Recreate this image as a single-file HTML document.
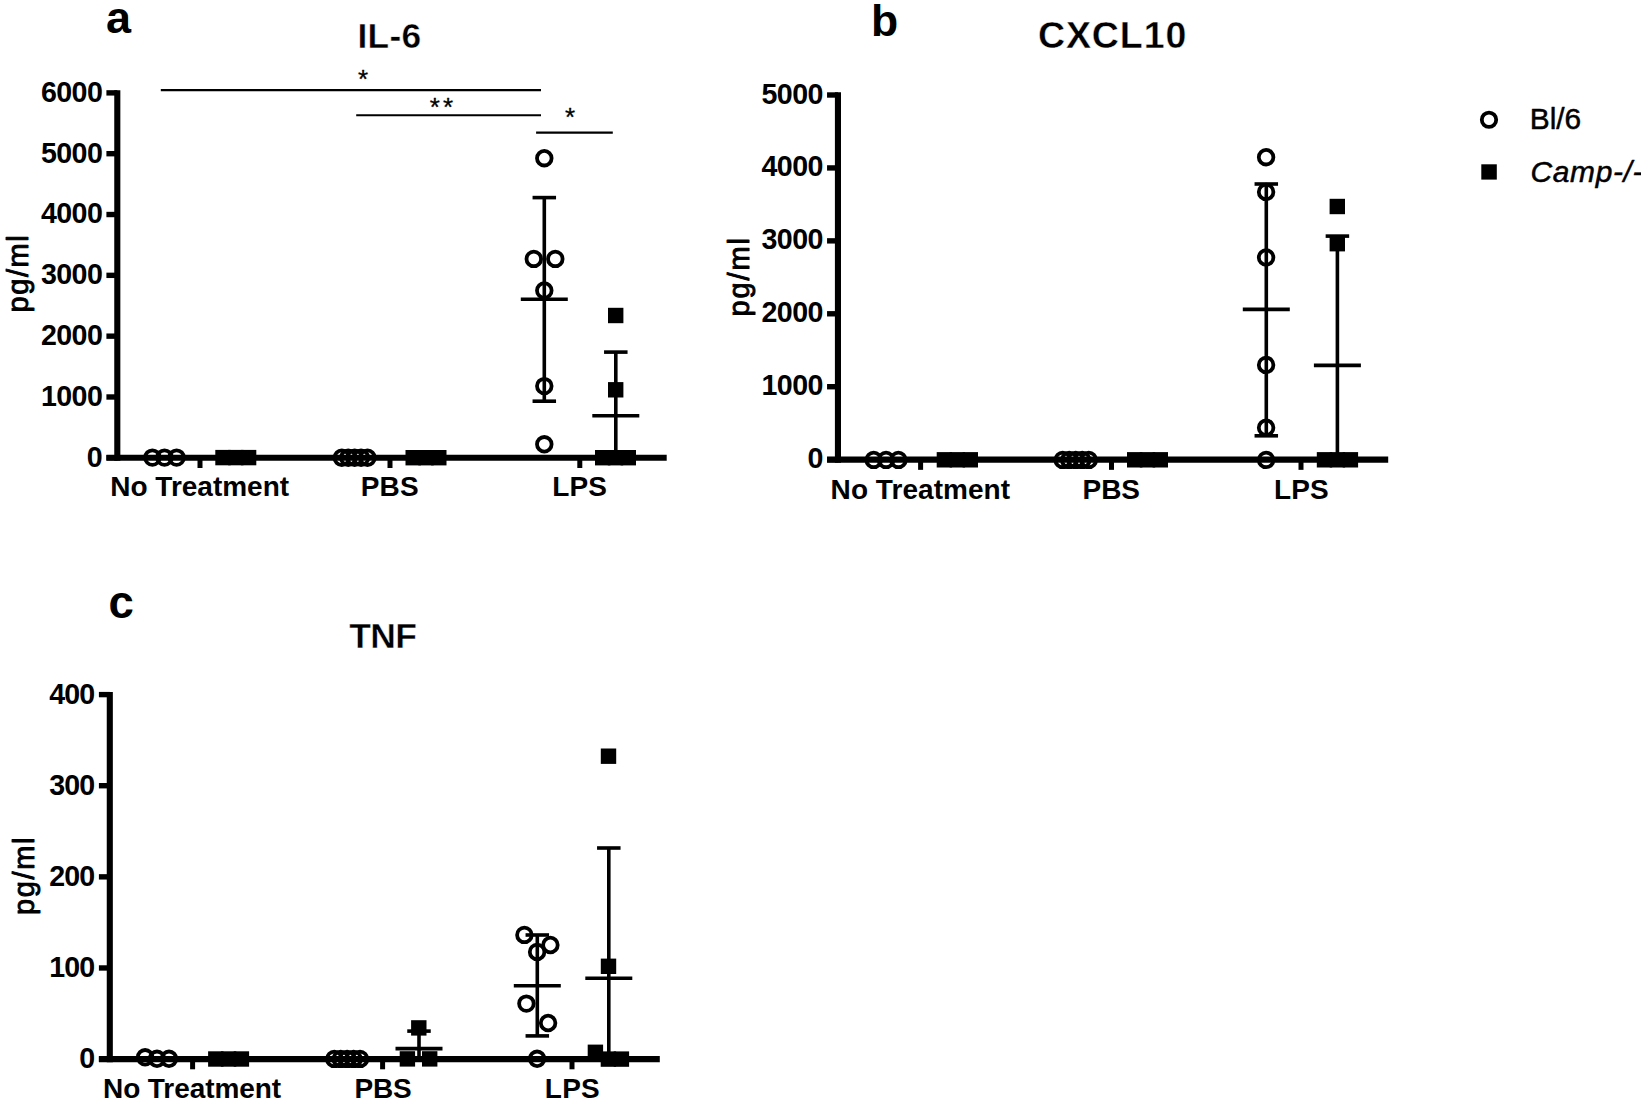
<!DOCTYPE html>
<html lang="en">
<head>
<meta charset="utf-8">
<title>IL-6, CXCL10 and TNF in Bl/6 and Camp-/- mice</title>
<style>
html,body{margin:0;padding:0;background:#fff;}
body{width:1641px;height:1105px;overflow:hidden;}
svg{display:block;}
svg text{font-family:"Liberation Sans",sans-serif;fill:#000;}
</style>
</head>
<body>
<svg width="1641" height="1105" viewBox="0 0 1641 1105">
<rect x="0" y="0" width="1641" height="1105" fill="#fff"/>
<line x1="117.30" y1="90.18" x2="117.30" y2="460.85" stroke="#000" stroke-width="6.1" stroke-linecap="butt"/>
<line x1="106.40" y1="457.80" x2="666.70" y2="457.80" stroke="#000" stroke-width="6.1" stroke-linecap="butt"/>
<line x1="106.40" y1="457.80" x2="117.30" y2="457.80" stroke="#000" stroke-width="5.4" stroke-linecap="butt"/>
<line x1="106.40" y1="396.98" x2="117.30" y2="396.98" stroke="#000" stroke-width="5.4" stroke-linecap="butt"/>
<line x1="106.40" y1="336.16" x2="117.30" y2="336.16" stroke="#000" stroke-width="5.4" stroke-linecap="butt"/>
<line x1="106.40" y1="275.34" x2="117.30" y2="275.34" stroke="#000" stroke-width="5.4" stroke-linecap="butt"/>
<line x1="106.40" y1="214.52" x2="117.30" y2="214.52" stroke="#000" stroke-width="5.4" stroke-linecap="butt"/>
<line x1="106.40" y1="153.70" x2="117.30" y2="153.70" stroke="#000" stroke-width="5.4" stroke-linecap="butt"/>
<line x1="106.40" y1="92.88" x2="117.30" y2="92.88" stroke="#000" stroke-width="5.4" stroke-linecap="butt"/>
<line x1="200.00" y1="457.80" x2="200.00" y2="468.00" stroke="#000" stroke-width="5.0" stroke-linecap="butt"/>
<line x1="390.00" y1="457.80" x2="390.00" y2="468.00" stroke="#000" stroke-width="5.0" stroke-linecap="butt"/>
<line x1="579.80" y1="457.80" x2="579.80" y2="468.00" stroke="#000" stroke-width="5.0" stroke-linecap="butt"/>
<text x="86.87" y="466.65" font-size="28.6" font-weight="bold">0</text>
<text x="40.93" y="405.83" font-size="28.6" font-weight="bold" letter-spacing="-0.582">1000</text>
<text x="40.93" y="345.01" font-size="28.6" font-weight="bold" letter-spacing="-0.582">2000</text>
<text x="40.93" y="284.19" font-size="28.6" font-weight="bold" letter-spacing="-0.582">3000</text>
<text x="40.93" y="223.37" font-size="28.6" font-weight="bold" letter-spacing="-0.582">4000</text>
<text x="40.93" y="162.55" font-size="28.6" font-weight="bold" letter-spacing="-0.582">5000</text>
<text x="40.93" y="101.73" font-size="28.6" font-weight="bold" letter-spacing="-0.582">6000</text>
<text x="110.31" y="496.30" font-size="28.0" font-weight="bold" font-style="normal" letter-spacing="-0.016">No Treatment</text>
<text x="360.81" y="496.30" font-size="28.0" font-weight="bold" font-style="normal" letter-spacing="0.100">PBS</text>
<text x="552.31" y="496.30" font-size="28.0" font-weight="bold" font-style="normal" letter-spacing="0.075">LPS</text>
<text x="106.05" y="33.00" font-size="45" font-weight="bold" font-style="normal">a</text>
<text font-size="29.0" font-weight="normal" letter-spacing="1.584" stroke="#000" stroke-width="0.9" stroke-linejoin="round" transform="translate(28.10,312.49) rotate(-90)">pg/ml</text>
<text x="357.52" y="47.70" font-size="35.3" font-weight="bold" font-style="normal" letter-spacing="0.291" stroke="#fff" stroke-width="0.4" stroke-linejoin="round">IL-6</text>
<line x1="160.80" y1="90.10" x2="541.00" y2="90.10" stroke="#000" stroke-width="2.2" stroke-linecap="butt"/>
<line x1="356.20" y1="115.25" x2="541.00" y2="115.25" stroke="#000" stroke-width="2.2" stroke-linecap="butt"/>
<line x1="536.10" y1="132.65" x2="612.80" y2="132.65" stroke="#000" stroke-width="2.2" stroke-linecap="butt"/>
<text x="357.94" y="88.20" font-size="26" font-weight="normal" font-style="normal" stroke="#000" stroke-width="0.3" stroke-linejoin="round">*</text>
<text x="429.85" y="115.60" font-size="26" font-weight="normal" font-style="normal" letter-spacing="3.130" stroke="#000" stroke-width="0.3" stroke-linejoin="round">**</text>
<text x="564.94" y="125.60" font-size="26" font-weight="normal" font-style="normal" stroke="#000" stroke-width="0.3" stroke-linejoin="round">*</text>
<circle cx="152.40" cy="457.60" r="7.3" fill="none" stroke="#000" stroke-width="3.8"/>
<circle cx="164.50" cy="457.60" r="7.3" fill="none" stroke="#000" stroke-width="3.8"/>
<circle cx="176.60" cy="457.60" r="7.3" fill="none" stroke="#000" stroke-width="3.8"/>
<rect x="215.30" y="449.90" width="15.4" height="15.4" fill="#000"/>
<rect x="228.10" y="449.90" width="15.4" height="15.4" fill="#000"/>
<rect x="240.90" y="449.90" width="15.4" height="15.4" fill="#000"/>
<circle cx="341.80" cy="457.70" r="7.3" fill="none" stroke="#000" stroke-width="3.8"/>
<circle cx="348.22" cy="457.70" r="7.3" fill="none" stroke="#000" stroke-width="3.8"/>
<circle cx="354.64" cy="457.70" r="7.3" fill="none" stroke="#000" stroke-width="3.8"/>
<circle cx="361.06" cy="457.70" r="7.3" fill="none" stroke="#000" stroke-width="3.8"/>
<circle cx="367.48" cy="457.70" r="7.3" fill="none" stroke="#000" stroke-width="3.8"/>
<rect x="405.50" y="450.00" width="15.4" height="15.4" fill="#000"/>
<rect x="418.30" y="450.00" width="15.4" height="15.4" fill="#000"/>
<rect x="431.10" y="450.00" width="15.4" height="15.4" fill="#000"/>
<line x1="544.30" y1="197.60" x2="544.30" y2="401.20" stroke="#000" stroke-width="3.6" stroke-linecap="butt"/>
<line x1="532.55" y1="197.60" x2="556.05" y2="197.60" stroke="#000" stroke-width="3.6" stroke-linecap="butt"/>
<line x1="520.80" y1="299.20" x2="567.80" y2="299.20" stroke="#000" stroke-width="3.6" stroke-linecap="butt"/>
<line x1="532.55" y1="401.20" x2="556.05" y2="401.20" stroke="#000" stroke-width="3.6" stroke-linecap="butt"/>
<circle cx="544.30" cy="158.20" r="7.3" fill="none" stroke="#000" stroke-width="3.8"/>
<circle cx="533.80" cy="258.90" r="7.3" fill="none" stroke="#000" stroke-width="3.8"/>
<circle cx="555.30" cy="258.90" r="7.3" fill="none" stroke="#000" stroke-width="3.8"/>
<circle cx="544.30" cy="290.50" r="7.3" fill="none" stroke="#000" stroke-width="3.8"/>
<circle cx="544.30" cy="386.10" r="7.3" fill="none" stroke="#000" stroke-width="3.8"/>
<circle cx="544.30" cy="444.30" r="7.3" fill="none" stroke="#000" stroke-width="3.8"/>
<line x1="615.80" y1="352.10" x2="615.80" y2="457.50" stroke="#000" stroke-width="3.6" stroke-linecap="butt"/>
<line x1="604.05" y1="352.10" x2="627.55" y2="352.10" stroke="#000" stroke-width="3.6" stroke-linecap="butt"/>
<line x1="592.30" y1="415.70" x2="639.30" y2="415.70" stroke="#000" stroke-width="3.6" stroke-linecap="butt"/>
<rect x="608.00" y="307.80" width="15.4" height="15.4" fill="#000"/>
<rect x="608.00" y="382.10" width="15.4" height="15.4" fill="#000"/>
<rect x="595.00" y="450.00" width="15.4" height="15.4" fill="#000"/>
<rect x="607.80" y="450.00" width="15.4" height="15.4" fill="#000"/>
<rect x="620.60" y="450.00" width="15.4" height="15.4" fill="#000"/>
<line x1="837.95" y1="92.30" x2="837.95" y2="462.70" stroke="#000" stroke-width="6.1" stroke-linecap="butt"/>
<line x1="827.05" y1="459.65" x2="1388.20" y2="459.65" stroke="#000" stroke-width="6.1" stroke-linecap="butt"/>
<line x1="827.05" y1="459.65" x2="837.95" y2="459.65" stroke="#000" stroke-width="5.4" stroke-linecap="butt"/>
<line x1="827.05" y1="386.72" x2="837.95" y2="386.72" stroke="#000" stroke-width="5.4" stroke-linecap="butt"/>
<line x1="827.05" y1="313.79" x2="837.95" y2="313.79" stroke="#000" stroke-width="5.4" stroke-linecap="butt"/>
<line x1="827.05" y1="240.86" x2="837.95" y2="240.86" stroke="#000" stroke-width="5.4" stroke-linecap="butt"/>
<line x1="827.05" y1="167.93" x2="837.95" y2="167.93" stroke="#000" stroke-width="5.4" stroke-linecap="butt"/>
<line x1="827.05" y1="95.00" x2="837.95" y2="95.00" stroke="#000" stroke-width="5.4" stroke-linecap="butt"/>
<line x1="920.60" y1="459.65" x2="920.60" y2="469.85" stroke="#000" stroke-width="5.0" stroke-linecap="butt"/>
<line x1="1111.50" y1="459.65" x2="1111.50" y2="469.85" stroke="#000" stroke-width="5.0" stroke-linecap="butt"/>
<line x1="1301.00" y1="459.65" x2="1301.00" y2="469.85" stroke="#000" stroke-width="5.0" stroke-linecap="butt"/>
<text x="807.47" y="468.15" font-size="28.6" font-weight="bold">0</text>
<text x="761.44" y="395.22" font-size="28.6" font-weight="bold" letter-spacing="-0.554">1000</text>
<text x="761.44" y="322.29" font-size="28.6" font-weight="bold" letter-spacing="-0.554">2000</text>
<text x="761.44" y="249.36" font-size="28.6" font-weight="bold" letter-spacing="-0.554">3000</text>
<text x="761.44" y="176.43" font-size="28.6" font-weight="bold" letter-spacing="-0.554">4000</text>
<text x="761.44" y="103.50" font-size="28.6" font-weight="bold" letter-spacing="-0.554">5000</text>
<text x="830.61" y="499.00" font-size="28.0" font-weight="bold" font-style="normal" letter-spacing="0.047">No Treatment</text>
<text x="1082.61" y="499.00" font-size="28.0" font-weight="bold" font-style="normal" letter-spacing="-0.100">PBS</text>
<text x="1273.91" y="499.00" font-size="28.0" font-weight="bold" font-style="normal" letter-spacing="0.125">LPS</text>
<text x="870.91" y="35.80" font-size="44.5" font-weight="bold" font-style="normal">b</text>
<text font-size="29.0" font-weight="normal" letter-spacing="1.909" stroke="#000" stroke-width="0.9" stroke-linejoin="round" transform="translate(748.90,316.49) rotate(-90)">pg/ml</text>
<text x="1037.90" y="48.40" font-size="37.5" font-weight="bold" font-style="normal" letter-spacing="0.936" stroke="#fff" stroke-width="0.4" stroke-linejoin="round">CXCL10</text>
<circle cx="873.70" cy="459.90" r="7.3" fill="none" stroke="#000" stroke-width="3.8"/>
<circle cx="886.05" cy="459.90" r="7.3" fill="none" stroke="#000" stroke-width="3.8"/>
<circle cx="898.40" cy="459.90" r="7.3" fill="none" stroke="#000" stroke-width="3.8"/>
<rect x="936.70" y="452.10" width="15.4" height="15.4" fill="#000"/>
<rect x="949.65" y="452.10" width="15.4" height="15.4" fill="#000"/>
<rect x="962.60" y="452.10" width="15.4" height="15.4" fill="#000"/>
<circle cx="1062.70" cy="459.90" r="7.3" fill="none" stroke="#000" stroke-width="3.8"/>
<circle cx="1069.22" cy="459.90" r="7.3" fill="none" stroke="#000" stroke-width="3.8"/>
<circle cx="1075.74" cy="459.90" r="7.3" fill="none" stroke="#000" stroke-width="3.8"/>
<circle cx="1082.26" cy="459.90" r="7.3" fill="none" stroke="#000" stroke-width="3.8"/>
<circle cx="1088.78" cy="459.90" r="7.3" fill="none" stroke="#000" stroke-width="3.8"/>
<rect x="1127.00" y="452.10" width="15.4" height="15.4" fill="#000"/>
<rect x="1139.80" y="452.10" width="15.4" height="15.4" fill="#000"/>
<rect x="1152.60" y="452.10" width="15.4" height="15.4" fill="#000"/>
<line x1="1266.30" y1="184.00" x2="1266.30" y2="435.80" stroke="#000" stroke-width="3.6" stroke-linecap="butt"/>
<line x1="1254.55" y1="184.00" x2="1278.05" y2="184.00" stroke="#000" stroke-width="3.6" stroke-linecap="butt"/>
<line x1="1242.80" y1="309.40" x2="1289.80" y2="309.40" stroke="#000" stroke-width="3.6" stroke-linecap="butt"/>
<line x1="1254.55" y1="435.80" x2="1278.05" y2="435.80" stroke="#000" stroke-width="3.6" stroke-linecap="butt"/>
<circle cx="1266.10" cy="157.20" r="7.3" fill="none" stroke="#000" stroke-width="3.8"/>
<circle cx="1266.10" cy="191.90" r="7.3" fill="none" stroke="#000" stroke-width="3.8"/>
<circle cx="1266.10" cy="257.50" r="7.3" fill="none" stroke="#000" stroke-width="3.8"/>
<circle cx="1266.10" cy="364.90" r="7.3" fill="none" stroke="#000" stroke-width="3.8"/>
<circle cx="1266.10" cy="427.70" r="7.3" fill="none" stroke="#000" stroke-width="3.8"/>
<circle cx="1266.10" cy="459.90" r="7.3" fill="none" stroke="#000" stroke-width="3.8"/>
<line x1="1337.40" y1="236.10" x2="1337.40" y2="459.40" stroke="#000" stroke-width="3.6" stroke-linecap="butt"/>
<line x1="1325.65" y1="236.10" x2="1349.15" y2="236.10" stroke="#000" stroke-width="3.6" stroke-linecap="butt"/>
<line x1="1313.90" y1="365.40" x2="1360.90" y2="365.40" stroke="#000" stroke-width="3.6" stroke-linecap="butt"/>
<rect x="1329.60" y="198.80" width="15.4" height="15.4" fill="#000"/>
<rect x="1329.60" y="236.00" width="15.4" height="15.4" fill="#000"/>
<rect x="1316.80" y="452.10" width="15.4" height="15.4" fill="#000"/>
<rect x="1329.70" y="452.10" width="15.4" height="15.4" fill="#000"/>
<rect x="1342.70" y="452.10" width="15.4" height="15.4" fill="#000"/>
<circle cx="1489.0" cy="119.75" r="7.2" fill="none" stroke="#000" stroke-width="3.8"/>
<rect x="1481.3" y="164.3" width="15.5" height="15.3" fill="#000"/>
<text x="1529.73" y="128.80" font-size="29.9" font-weight="normal" font-style="normal" letter-spacing="-0.022" stroke="#000" stroke-width="0.5" stroke-linejoin="round">Bl/6</text>
<text x="1530.56" y="181.50" font-size="29.9" font-weight="normal" font-style="italic" letter-spacing="0.663" stroke="#000" stroke-width="0.5" stroke-linejoin="round">Camp-/-</text>
<line x1="109.80" y1="691.90" x2="109.80" y2="1062.15" stroke="#000" stroke-width="6.1" stroke-linecap="butt"/>
<line x1="98.90" y1="1059.10" x2="659.80" y2="1059.10" stroke="#000" stroke-width="6.1" stroke-linecap="butt"/>
<line x1="98.90" y1="1059.10" x2="109.80" y2="1059.10" stroke="#000" stroke-width="5.4" stroke-linecap="butt"/>
<line x1="98.90" y1="967.97" x2="109.80" y2="967.97" stroke="#000" stroke-width="5.4" stroke-linecap="butt"/>
<line x1="98.90" y1="876.85" x2="109.80" y2="876.85" stroke="#000" stroke-width="5.4" stroke-linecap="butt"/>
<line x1="98.90" y1="785.72" x2="109.80" y2="785.72" stroke="#000" stroke-width="5.4" stroke-linecap="butt"/>
<line x1="98.90" y1="694.60" x2="109.80" y2="694.60" stroke="#000" stroke-width="5.4" stroke-linecap="butt"/>
<line x1="192.60" y1="1059.10" x2="192.60" y2="1069.30" stroke="#000" stroke-width="5.0" stroke-linecap="butt"/>
<line x1="382.60" y1="1059.10" x2="382.60" y2="1069.30" stroke="#000" stroke-width="5.0" stroke-linecap="butt"/>
<line x1="572.00" y1="1059.10" x2="572.00" y2="1069.30" stroke="#000" stroke-width="5.0" stroke-linecap="butt"/>
<text x="79.37" y="1068.25" font-size="28.6" font-weight="bold">0</text>
<text x="49.37" y="977.12" font-size="28.6" font-weight="bold" letter-spacing="-0.909">100</text>
<text x="49.37" y="886.00" font-size="28.6" font-weight="bold" letter-spacing="-0.909">200</text>
<text x="49.37" y="794.87" font-size="28.6" font-weight="bold" letter-spacing="-0.909">300</text>
<text x="49.37" y="703.75" font-size="28.6" font-weight="bold" letter-spacing="-0.909">400</text>
<text x="103.01" y="1097.50" font-size="28.0" font-weight="bold" font-style="normal" letter-spacing="-0.080">No Treatment</text>
<text x="354.41" y="1097.50" font-size="28.0" font-weight="bold" font-style="normal" letter-spacing="-0.200">PBS</text>
<text x="544.81" y="1097.50" font-size="28.0" font-weight="bold" font-style="normal" letter-spacing="0.225">LPS</text>
<text x="108.38" y="617.90" font-size="45.5" font-weight="bold" font-style="normal">c</text>
<text font-size="29.0" font-weight="normal" letter-spacing="1.659" stroke="#000" stroke-width="0.9" stroke-linejoin="round" transform="translate(33.90,915.09) rotate(-90)">pg/ml</text>
<text x="349.34" y="647.70" font-size="35.5" font-weight="bold" font-style="normal" letter-spacing="-0.681" stroke="#fff" stroke-width="0.4" stroke-linejoin="round">TNF</text>
<circle cx="145.10" cy="1057.30" r="7.3" fill="none" stroke="#000" stroke-width="3.8"/>
<circle cx="157.00" cy="1058.80" r="7.3" fill="none" stroke="#000" stroke-width="3.8"/>
<circle cx="169.00" cy="1058.80" r="7.3" fill="none" stroke="#000" stroke-width="3.8"/>
<rect x="208.10" y="1051.30" width="15.4" height="15.4" fill="#000"/>
<rect x="220.90" y="1051.30" width="15.4" height="15.4" fill="#000"/>
<rect x="233.70" y="1051.30" width="15.4" height="15.4" fill="#000"/>
<circle cx="334.30" cy="1058.90" r="7.3" fill="none" stroke="#000" stroke-width="3.8"/>
<circle cx="340.73" cy="1058.90" r="7.3" fill="none" stroke="#000" stroke-width="3.8"/>
<circle cx="347.16" cy="1058.90" r="7.3" fill="none" stroke="#000" stroke-width="3.8"/>
<circle cx="353.59" cy="1058.90" r="7.3" fill="none" stroke="#000" stroke-width="3.8"/>
<circle cx="360.02" cy="1058.90" r="7.3" fill="none" stroke="#000" stroke-width="3.8"/>
<line x1="419.00" y1="1031.10" x2="419.00" y2="1059.00" stroke="#000" stroke-width="3.6" stroke-linecap="butt"/>
<line x1="407.25" y1="1031.10" x2="430.75" y2="1031.10" stroke="#000" stroke-width="3.6" stroke-linecap="butt"/>
<line x1="395.50" y1="1048.60" x2="442.50" y2="1048.60" stroke="#000" stroke-width="3.6" stroke-linecap="butt"/>
<rect x="399.70" y="1051.20" width="15.4" height="15.4" fill="#000"/>
<rect x="422.00" y="1051.20" width="15.4" height="15.4" fill="#000"/>
<rect x="411.10" y="1020.20" width="15.4" height="15.4" fill="#000"/>
<line x1="537.30" y1="935.00" x2="537.30" y2="1035.90" stroke="#000" stroke-width="3.6" stroke-linecap="butt"/>
<line x1="525.55" y1="935.00" x2="549.05" y2="935.00" stroke="#000" stroke-width="3.6" stroke-linecap="butt"/>
<line x1="513.80" y1="985.80" x2="560.80" y2="985.80" stroke="#000" stroke-width="3.6" stroke-linecap="butt"/>
<line x1="525.55" y1="1035.90" x2="549.05" y2="1035.90" stroke="#000" stroke-width="3.6" stroke-linecap="butt"/>
<circle cx="524.40" cy="934.90" r="7.3" fill="none" stroke="#000" stroke-width="3.8"/>
<circle cx="550.40" cy="945.00" r="7.3" fill="none" stroke="#000" stroke-width="3.8"/>
<circle cx="537.10" cy="951.90" r="7.3" fill="none" stroke="#000" stroke-width="3.8"/>
<circle cx="526.40" cy="1003.60" r="7.3" fill="none" stroke="#000" stroke-width="3.8"/>
<circle cx="548.10" cy="1023.00" r="7.3" fill="none" stroke="#000" stroke-width="3.8"/>
<circle cx="537.10" cy="1058.80" r="7.3" fill="none" stroke="#000" stroke-width="3.8"/>
<line x1="608.80" y1="848.00" x2="608.80" y2="1059.00" stroke="#000" stroke-width="3.6" stroke-linecap="butt"/>
<line x1="597.05" y1="848.00" x2="620.55" y2="848.00" stroke="#000" stroke-width="3.6" stroke-linecap="butt"/>
<line x1="585.30" y1="978.30" x2="632.30" y2="978.30" stroke="#000" stroke-width="3.6" stroke-linecap="butt"/>
<rect x="600.80" y="748.50" width="15.4" height="15.4" fill="#000"/>
<rect x="600.80" y="958.60" width="15.4" height="15.4" fill="#000"/>
<rect x="587.70" y="1044.60" width="15.4" height="15.4" fill="#000"/>
<rect x="600.70" y="1051.40" width="15.4" height="15.4" fill="#000"/>
<rect x="613.70" y="1051.40" width="15.4" height="15.4" fill="#000"/>
</svg>
</body>
</html>
